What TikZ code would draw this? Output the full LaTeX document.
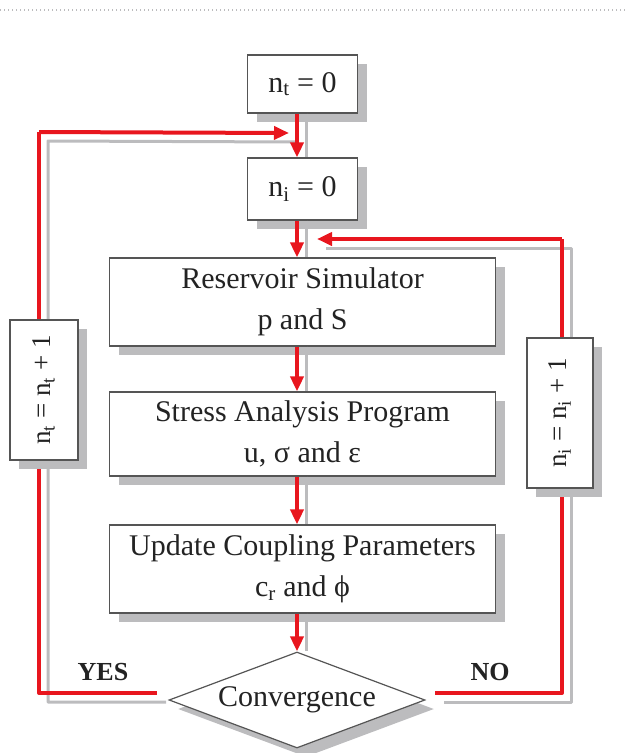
\documentclass[tikz,border=0pt]{standalone}
\usepackage{fontspec}
\setmainfont{Liberation Serif}
\usetikzlibrary{shapes.geometric,shadows,arrows.meta,backgrounds}
\definecolor{mred}{RGB}{232,22,30}
\definecolor{mgray}{RGB}{188,188,190}
\definecolor{bord}{RGB}{85,85,85}
\definecolor{txt}{RGB}{35,35,35}
\begin{document}
\begin{tikzpicture}[x=1pt,y=-1pt,
  box/.style={draw=bord, line width=1.2pt, fill=white, inner sep=0pt, align=center,
    text=txt, font=\fontsize{30}{41}\selectfont,
    drop shadow={shadow xshift=9pt, shadow yshift=-9pt, fill=mgray, opacity=1}},
  decision/.style={box, diamond, aspect=2.67},
  lbl/.style={text=txt, font=\bfseries\fontsize{26}{30}\selectfont, inner sep=0pt},
  arr/.style={draw=mred, line width=4pt, line join=round, -{Triangle[length=15pt,width=13pt]}},
  redline/.style={draw=mred, line width=4pt, line join=round},
  shline/.style={draw=mgray, line width=3pt, line join=round}
]
\useasboundingbox (0,0) rectangle (625,753);
\draw[mgray, line width=1.2pt, dash pattern=on 1.2pt off 2.8pt] (0,10) -- (625,10);

% nodes
\node[box, minimum width=110pt, minimum height=58pt] (nt) at (302.5,84) {n\textsubscript{t} = 0};
\node[box, minimum width=110pt, minimum height=62pt] (ni) at (302.5,189) {n\textsubscript{i} = 0};
\node[box, minimum width=386pt, minimum height=88pt] (res) at (302.5,302) {Reservoir Simulator\\p and S};
\node[box, minimum width=386pt, minimum height=84pt] (str) at (302.5,434) {Stress Analysis Program\\u, σ and ε};
\node[box, minimum width=386pt, minimum height=88pt] (upd) at (302.5,569) {Update Coupling Parameters\\c\textsubscript{r} and ϕ};
\node[decision, minimum width=256pt, minimum height=96pt] (dia) at (297,700) {Convergence};

\node[lbl] (yes) at (103,672) {YES};
\node[lbl] (no) at (490,672) {NO};

% loop coordinates
\coordinate (yes0) at (157,693);
\coordinate (tl) at (39,132);
\coordinate (jl) at (289,133);
\coordinate (no0) at (435,693);
\coordinate (tr) at (562,239);
\coordinate (jr) at (317,239);

% loops behind the side boxes
\begin{scope}[on background layer]
  \draw[shline, transform canvas={xshift=9pt,yshift=-9pt}] (yes0) -| (tl) -- (jl);
  \draw[shline, transform canvas={xshift=9pt,yshift=-9pt}] (no0) -| (tr) -- (jr);
  \draw[redline] (yes0) -| (tl);
  \draw[arr] (tl) -- (jl);
  \draw[redline] (no0) -| (tr);
  \draw[arr] (tr) -- (jr);
\end{scope}

\node[box, minimum width=68pt, minimum height=140pt, font=\fontsize{27}{30}\selectfont] (lb) at (44,390)
  {\rotatebox{90}{n\textsubscript{t} = n\textsubscript{t} + 1}};
\node[box, minimum width=66pt, minimum height=150pt, font=\fontsize{27}{30}\selectfont] (rb) at (560,413)
  {\rotatebox{90}{n\textsubscript{i} = n\textsubscript{i} + 1}};

% vertical arrows with shadows
\foreach \a/\b in {nt/ni, ni/res, res/str, str/upd, upd/dia} {
  \draw[shline, transform canvas={xshift=9pt}] (\a.south -| dia.north) -- (\b.north -| dia.north);
  \draw[arr] (\a.south -| dia.north) -- (\b.north -| dia.north);
}
\end{tikzpicture}
\end{document}
